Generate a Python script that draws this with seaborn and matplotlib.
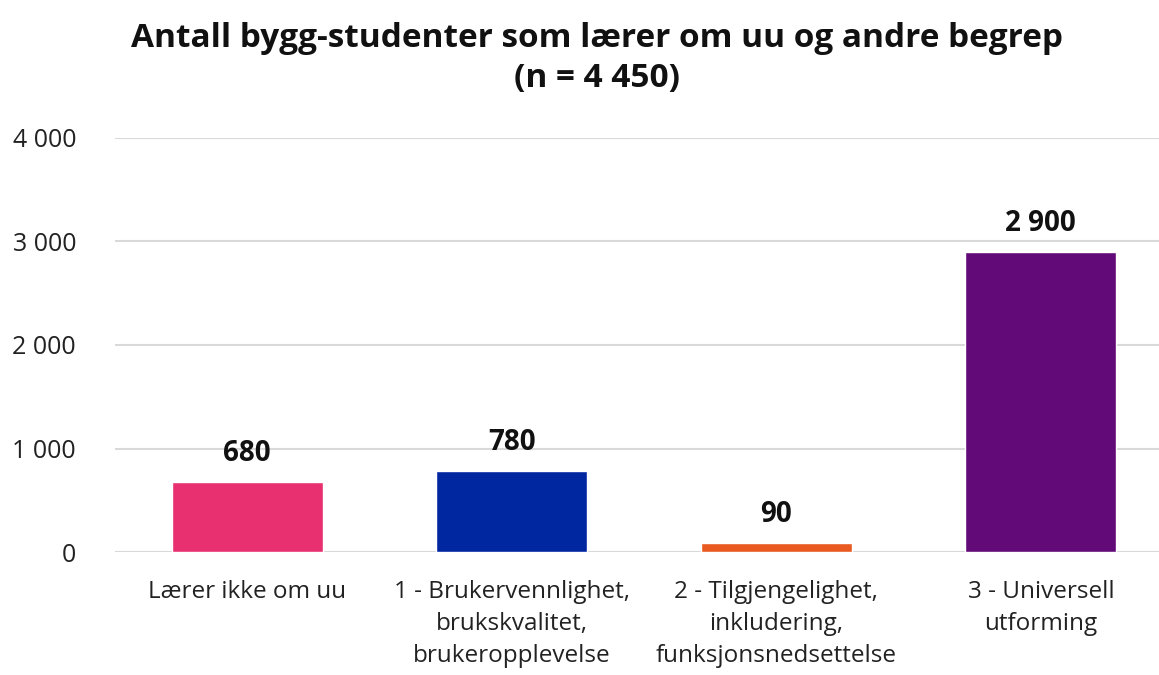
import matplotlib
matplotlib.use("Agg")
import matplotlib.pyplot as plt
import seaborn as sns
import pandas as pd

categories = ["Lærer ikke om uu",
              "1 - Brukervennlighet,\nbrukskvalitet,\nbrukeropplevelse",
              "2 - Tilgjengelighet,\ninkludering,\nfunksjonsnedsettelse",
              "3 - Universell\nutforming"]
values = [680, 780, 90, 2900]
colors = ["#E83070", "#0026A0", "#E85A20", "#620A78"]
yticks = [0, 1000, 2000, 3000, 4000]
ytick_labels = ["0", "1 000", "2 000", "3 000", "4 000"]
value_labels = ["680", "780", "90", "2 900"]

sns.set_theme(style="white")
plt.rcParams["font.family"] = ["Open Sans", "DejaVu Sans"]

df = pd.DataFrame({"cat": categories, "val": values})
fig = plt.figure(figsize=(11.59, 6.75), dpi=100)
ax = fig.add_axes([0.0992, 0.182, 0.913, 0.614])
sns.barplot(data=df, x="cat", y="val", hue="cat", palette=colors, width=0.571,
            legend=False, ax=ax, saturation=1)
ax.set_ylim(0, 4000)
ax.set_xlim(-0.5, 3.5)
ax.set_yticks(yticks)
ax.set_yticklabels(ytick_labels, fontsize=18)
ax.tick_params(axis="x", labelsize=17.5, pad=20, length=0)
ax.tick_params(axis="y", pad=28, length=0)
for lbl in ax.get_yticklabels():
    lbl.set_color("#222222")
for lbl in ax.get_xticklabels():
    lbl.set_color("#222222")
    lbl.set_linespacing(1.45)
ax.set_xlabel("")
ax.set_ylabel("")
ax.yaxis.grid(True, color="#d9d9d9", linewidth=1.5)
ax.set_axisbelow(True)
for s in ax.spines.values():
    s.set_visible(False)
for i, (v, t) in enumerate(zip(values, value_labels)):
    ax.annotate(t, (i, v), xytext=(0, 10), textcoords="offset points",
                ha="center", va="bottom", fontsize=20, fontweight="bold", color="#111111")
fig.text(0.515, 0.968, "Antall bygg-studenter som lærer om uu og andre begrep\n(n = 4 450)",
         ha="center", va="top", fontsize=24, fontweight="bold", color="#111111",
         linespacing=1.3)
fig.savefig("out.png", dpi=100)
